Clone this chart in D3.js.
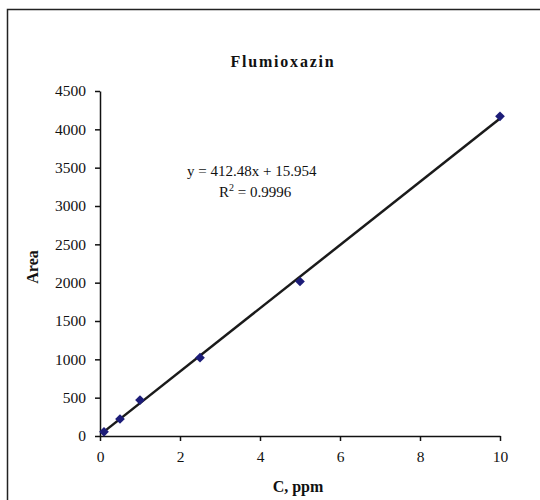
<!DOCTYPE html>
<html>
<head>
<meta charset="utf-8">
<script src="https://cdnjs.cloudflare.com/ajax/libs/d3/7.8.5/d3.min.js"></script>
<style>
  body { margin: 0; background: #fff; }
  svg text { font-family: "Liberation Serif", "Times New Roman", serif; fill: #111; }
</style>
</head>
<body>
<svg id="chart" width="540" height="500"></svg>
<script>
// data
var concentrations = [0.1, 0.5, 1, 2.5, 5, 10];
var areas = [55, 222, 468, 1022, 2015, 4170];
var xTicks = [0, 2, 4, 6, 8, 10];
var yTicks = [0, 500, 1000, 1500, 2000, 2500, 3000, 3500, 4000, 4500];
var slope = 412.48, intercept = 15.954;
var eqLabel = "y = 412.48x + 15.954";
var r2Value = "0.9996";

var margin = { top: 91, right: 40, bottom: 64, left: 100 },
    width = 400,
    height = 345;

var svg = d3.select("#chart");

// outer frame, only top and left edge are visible
svg.append("rect")
    .attr("x", 7.5).attr("y", 9.5)
    .attr("width", 560).attr("height", 520)
    .attr("fill", "none")
    .attr("stroke", "#222")
    .attr("stroke-width", 1.5);

var g = svg.append("g")
    .attr("transform", "translate(" + margin.left + "," + margin.top + ")");

var x = d3.scaleLinear().domain([0, 10]).range([0, width]);
var y = d3.scaleLinear().domain([0, 4500]).range([height, 0]);

// axes
var xAxis = g.append("g")
    .attr("transform", "translate(0," + height + ")")
    .call(d3.axisBottom(x).tickValues(xTicks).tickFormat(d3.format("d"))
        .tickSize(5).tickSizeOuter(0).tickPadding(10));
var yAxis = g.append("g")
    .call(d3.axisLeft(y).tickValues(yTicks).tickFormat(d3.format("d"))
        .tickSize(5).tickSizeOuter(0).tickPadding(9));

[xAxis, yAxis].forEach(function (ax) {
    ax.selectAll("path, line").attr("stroke", "#111").attr("stroke-width", 1.5);
    ax.selectAll("text")
        .style("font-size", "15.5px")
        .style("font-family", "Liberation Serif")
        .attr("fill", "#222");
});

// trend line
var trend = d3.line()
    .x(function (d) { return x(d); })
    .y(function (d) { return y(slope * d + intercept); });

g.append("path")
    .attr("d", trend([concentrations[0], concentrations[concentrations.length - 1]]))
    .attr("stroke", "#1a1a1a")
    .attr("stroke-width", 2.5)
    .attr("fill", "none");

// points
g.selectAll(".pt")
    .data(concentrations)
    .enter().append("path")
    .attr("class", "pt")
    .attr("d", d3.symbol().type(d3.symbolDiamond2).size(60))
    .attr("transform", function (d, i) { return "translate(" + x(d) + "," + y(areas[i]) + ")"; })
    .attr("fill", "#1c1c78");

// title
svg.append("text")
    .attr("x", 283).attr("y", 67)
    .attr("text-anchor", "middle")
    .style("font-size", "16px").style("font-weight", "bold")
    .style("letter-spacing", "1.8px")
    .text("Flumioxazin");

// axis titles
svg.append("text")
    .attr("x", 298).attr("y", 492)
    .attr("text-anchor", "middle")
    .style("font-size", "16px").style("font-weight", "bold")
    .text("C, ppm");

svg.append("text")
    .attr("transform", "translate(38,267) rotate(-90)")
    .attr("text-anchor", "middle")
    .style("font-size", "16px").style("font-weight", "bold")
    .text("Area");

// regression equation
svg.append("text")
    .attr("x", 187).attr("y", 176)
    .style("font-size", "15px")
    .text(eqLabel);

var r2 = svg.append("text")
    .attr("x", 219).attr("y", 197)
    .style("font-size", "15px");
r2.append("tspan").text("R");
r2.append("tspan").attr("dy", -6).style("font-size", "10px").text("2");
r2.append("tspan").attr("dy", 6).text(" = " + r2Value);
</script>
</body>
</html>
